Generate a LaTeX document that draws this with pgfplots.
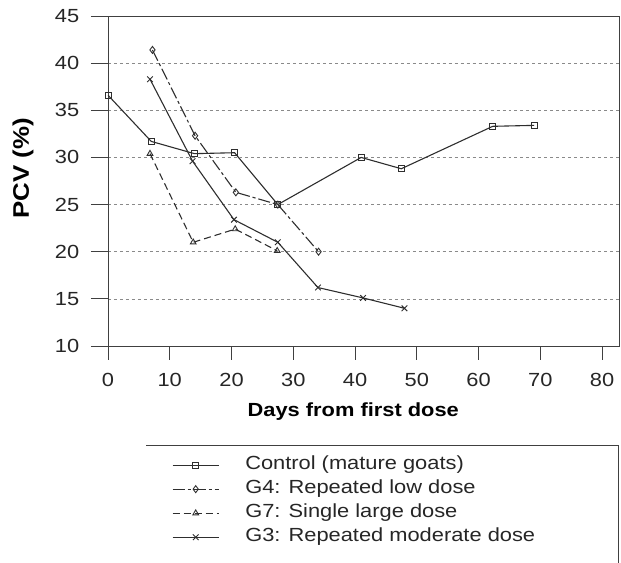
\documentclass[border=0pt]{standalone}
\usepackage{pgfplots}
\pgfplotsset{compat=1.18}
\usepackage{fontspec}
\setmainfont{Liberation Sans}[FakeStretch=1.15]
\definecolor{ln}{HTML}{2E2E2E}
\definecolor{gr}{HTML}{8A8A8A}
\begin{document}
\begin{tikzpicture}[font=\fontsize{19bp}{22bp}\selectfont]
\useasboundingbox (-108bp,-217bp) rectangle (513bp,346bp);
\begin{axis}[
  at={(0,0)}, anchor=south west,
  scale only axis, width=511bp, height=330bp,
  xmin=0, xmax=82.75, ymin=10, ymax=45,
  xtick={0,10,...,80}, ytick={10,15,...,45},
  /pgf/number format/assume math mode=true,
  tick align=outside, xtick pos=bottom, ytick pos=left,
  x tick style={black!75, line width=0.8bp, /pgfplots/major tick length=13.5bp},
  y tick style={black!75, line width=0.8bp, /pgfplots/major tick length=17bp},
  axis line style={black!75, line width=0.8bp},
  ymajorgrids, grid style={gr, dashed, line width=0.6bp},
  ticklabel style={font=\fontsize{19bp}{22bp}\selectfont, text=black!85},
  xticklabel style={yshift=-19bp},
  yticklabel style={xshift=-21bp},
  xlabel={\textbf{Days from first dose}},
  ylabel={\textbf{PCV (\%)}},
  xlabel style={at={(axis description cs:0.48,-0.2)}, anchor=center, font=\fontsize{19bp}{22bp}\selectfont},
  ylabel style={at={(axis description cs:-0.166,0.539)}, anchor=center, rotate=0, font=\fontsize{22.5bp}{26bp}\selectfont},
  legend style={at={(axis description cs:0.1252,-0.3325)}, anchor=north west,
    draw=none, fill=none, inner sep=0pt, row sep=5.5bp, column sep=0pt,
    nodes={inner sep=0pt, text height=14bp, text depth=4.5bp, font=\fontsize{19bp}{22bp}\selectfont, text=black!85}},
  legend cell align=left,
  legend image code/.code={
    \draw[#1, mark repeat=2, mark phase=2] plot coordinates {(0bp,0bp) (23bp,0bp) (46bp,0bp)};
    \node[anchor=west, inner sep=0pt, minimum width=26bp] at (46bp,0bp) {};
  },
  every axis plot/.append style={ln, line width=1.1bp, mark options={solid, fill=white, line width=0.9bp}},
]
\addplot[mark=square, mark size=3bp] coordinates {
  (0,36.6) (7,31.7) (14,30.4) (20.5,30.5) (27.5,25.0) (41,30.0) (47.5,28.8) (62.3,33.3) (69,33.4)};
\addlegendentry{Control (mature goats)}
\addplot[mark=diamond, mark size=3.5bp, dash pattern=on 12bp off 3bp on 3bp off 3bp] coordinates {
  (7.2,41.4) (14.1,32.3) (20.7,26.3) (27.5,25.0) (34.1,20.0)};
\addlegendentry{G4: Repeated low dose}
\addplot[mark=triangle, mark size=3.3bp, dash pattern=on 7bp off 4bp] coordinates {
  (6.8,30.4) (13.8,21.0) (20.6,22.4) (27.4,20.1)};
\addlegendentry{G7: Single large dose}
\addplot[mark=x, mark size=4bp] coordinates {
  (6.8,38.3) (13.7,29.6) (20.4,23.4) (27.5,21.0) (34,16.2) (41.3,15.1) (48,14.0)};
\addlegendentry{G3: Repeated moderate dose}
\end{axis}
\draw[black!75, line width=0.8bp] (38bp,-99bp) -- (510bp,-99bp) -- (510bp,-220bp);
\end{tikzpicture}
\end{document}
